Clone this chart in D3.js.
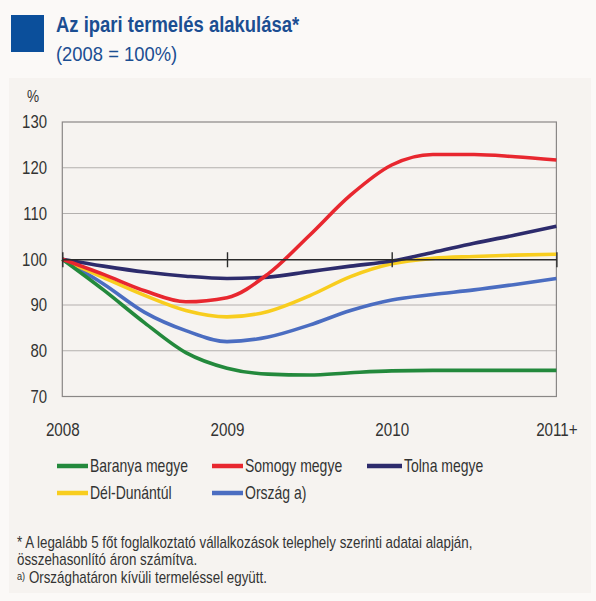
<!DOCTYPE html>
<html><head><meta charset="utf-8">
<script src="https://cdn.jsdelivr.net/npm/d3@7"></script>
<style>
html,body{margin:0;padding:0;background:#fbf9f7;}
svg{display:block;}
text{font-family:"Liberation Sans Narrow","Arial Narrow","Liberation Sans",Arial,sans-serif;}
</style></head><body>
<svg id="chart" width="596" height="601"></svg>
<script>
const periods = [0, 0.25, 0.5, 0.75, 1, 1.25, 1.5, 1.75, 2, 2.25, 2.5, 2.75, 3];
const xTickValues = [0, 1, 2, 3];
const xTickLabels = ["2008", "2009", "2010", "2011+"];
const yTickValues = [70, 80, 90, 100, 110, 120, 130];

const baranya = [100, 93.3, 86.1, 79.6, 76.2, 74.9, 74.7, 75.2, 75.6, 75.7, 75.7, 75.7, 75.7];
const somogy  = [100, 96.7, 93.1, 90.7, 91.6, 96.8, 105.2, 114.0, 120.6, 122.9, 122.9, 122.4, 121.7];
const tolna   = [100, 98.5, 97.2, 96.3, 95.8, 96.1, 97.3, 98.5, 99.6, 101.5, 103.5, 105.3, 107.2];
const delDunantul = [100, 96.0, 92.1, 88.8, 87.4, 88.6, 92.0, 96.2, 99.0, 100.2, 100.6, 100.9, 101.1];
const orszag  = [100, 94.6, 88.4, 84.4, 82.0, 83.0, 85.6, 88.8, 91.1, 92.3, 93.3, 94.5, 95.8];

const seriesNames = ["Baranya megye", "Somogy megye", "Tolna megye", "Dél-Dunántúl", "Ország a)"];
const seriesColors = ["#23893c", "#e8272f", "#2d2b6c", "#f8cd1e", "#4b6dc1"];
const seriesValues = [baranya, somogy, tolna, delDunantul, orszag];
const drawOrder = [4, 3, 0, 2, 1];

const svg = d3.select("#chart");
function txt(x0, y0, str, size, sx, opts = {}) {
  const t = svg.append("text").attr("transform", `translate(${x0},${y0}) scale(${sx},1)`)
    .attr("font-size", size).attr("fill", opts.fill || "#333")
    .attr("font-weight", opts.weight || "normal")
    .attr("text-anchor", opts.anchor || "start");
  if (str !== null) t.text(str);
  return t;
}

// panel
svg.append("rect").attr("x", 9).attr("y", 78).attr("width", 582).attr("height", 515).attr("fill", "#f6f3f0");
// title
svg.append("rect").attr("x", 11).attr("y", 15).attr("width", 33).attr("height", 37).attr("fill", "#0b4f9b");
txt(56, 32, "Az ipari termelés alakulása*", 22, 0.84, {fill: "#1b4e92", weight: "bold"});
txt(56, 61, "(2008 = 100%)", 20, 0.92, {fill: "#1b4e92"});

const x = d3.scaleLinear().domain([0, 3]).range([62.3, 556.4]);
const y = d3.scaleLinear().domain([70, 130]).range([396.5, 122]);

const plot = svg.append("g");
// gridlines
plot.append("g").selectAll("line").data(yTickValues.filter(v => v !== 100 && v !== 70 && v !== 130)).join("line")
  .attr("x1", x(0)).attr("x2", x(3)).attr("y1", d => y(d)).attr("y2", d => y(d))
  .attr("stroke", "#b3b0ae").attr("stroke-width", 1.2);
// frame
plot.append("rect").attr("x", x(0)).attr("y", y(130)).attr("width", x(3) - x(0)).attr("height", y(70) - y(130))
  .attr("fill", "none").attr("stroke", "#8a8786").attr("stroke-width", 1.2);

// y axis labels
const ySx = 0.83;
const yAxis = d3.axisLeft(y).tickValues(yTickValues).tickSize(0).tickPadding(0).tickFormat(d3.format("d"));
const gy = svg.append("g").attr("transform", `translate(47,0)`).call(yAxis);
gy.select(".domain").remove();
gy.selectAll("text").attr("font-size", 18).attr("fill", "#333").attr("font-family", null)
  .attr("transform", `scale(${ySx},1)`);
txt(27, 102, "%", 16, 0.85);

// series
const line = d3.line().x((d, i) => x(periods[i])).y(d => y(d)).curve(d3.curveMonotoneX);
drawOrder.forEach(k => {
  svg.append("path").datum(seriesValues[k]).attr("d", line).attr("fill", "none")
    .attr("stroke", seriesColors[k]).attr("stroke-width", 3.6).attr("stroke-linejoin", "round");
});

// 100 baseline axis with ticks
const xAxis = d3.axisBottom(x).tickValues(xTickValues).tickSize(0).tickFormat("");
const gx = svg.append("g").attr("transform", `translate(0,${y(100)})`).call(xAxis);
gx.select(".domain").attr("stroke", "#2a2a2a").attr("stroke-width", 1.6);
gx.selectAll(".tick line").attr("y1", -7).attr("y2", 8).attr("stroke", "#2a2a2a").attr("stroke-width", 1.4);

// x labels
const xLab = d3.axisBottom(x).tickValues(xTickValues).tickSize(0).tickPadding(0)
  .tickFormat((d, i) => xTickLabels[i]);
const gxl = svg.append("g").attr("transform", `translate(0,423)`).call(xLab);
gxl.select(".domain").remove();
gxl.selectAll("text").attr("font-size", 19).attr("fill", "#333").attr("font-family", null)
  .attr("transform", "scale(0.8,1)");

// legend
const legendPos = [[57, 466], [212, 466], [367, 466], [57, 493], [212, 493]];
seriesNames.forEach((n, i) => {
  const [lx, ly] = legendPos[i];
  const w = i === 2 ? 35 : 31;
  svg.append("line").attr("x1", lx).attr("x2", lx + w).attr("y1", ly).attr("y2", ly)
    .attr("stroke", seriesColors[i]).attr("stroke-width", 4.5);
  txt(lx + w + 2, ly + 6, n, 17.5, 0.8);
});

// footnotes
txt(17, 548, "* A legalább 5 főt foglalkoztató vállalkozások telephely szerinti adatai alapján,", 16, 0.835);
txt(17, 565, "összehasonlító áron számítva.", 16, 0.835);
const fn = txt(17, 583, null, 16, 0.835);
fn.append("tspan").attr("font-size", 11).attr("dy", -3).text("a)");
fn.append("tspan").attr("dy", 3).text(" Országhatáron kívüli termeléssel együtt.");
</script></body></html>
